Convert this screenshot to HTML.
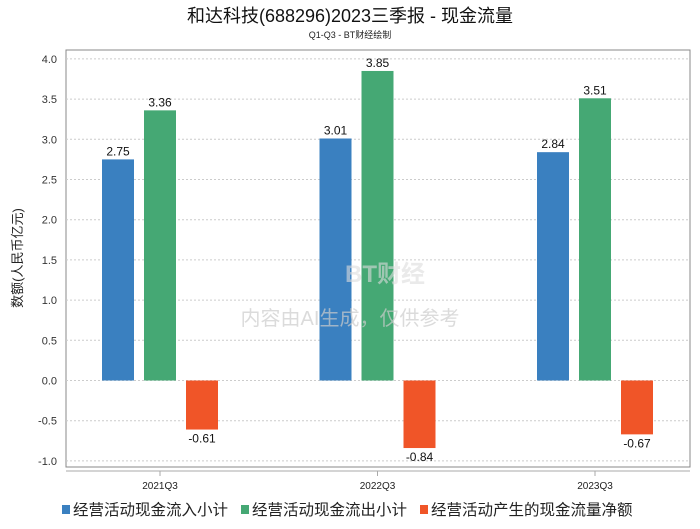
<!DOCTYPE html>
<html><head><meta charset="utf-8"><style>
body{margin:0;background:#fff;}
svg text{font-family:"Liberation Sans","Noto Sans CJK SC",sans-serif;}
</style></head><body>
<svg id="chart" width="700" height="524" xmlns="http://www.w3.org/2000/svg">
<text x="350" y="22" text-anchor="middle" font-size="18" fill="#111">和达科技(688296)2023三季报 - 现金流量</text>
<text x="350" y="38" text-anchor="middle" font-size="9" fill="#222">Q1-Q3 - BT财经绘制</text>
<rect x="66" y="50" width="624" height="417" fill="none" stroke="#888"/>
<g id="grid"></g>
<g id="bars"></g>
<line x1="66" y1="471" x2="690" y2="471" stroke="#aaa"/>
<text transform="translate(22,258) rotate(-90)" text-anchor="middle" font-size="13" fill="#222">数额(人民币亿元)</text>
<text x="385" y="282" text-anchor="middle" font-size="24" font-weight="bold" fill="#ddd" opacity="0.6">BT财经</text>
<text x="350" y="325" text-anchor="middle" font-size="20" fill="#ccc" opacity="0.7">内容由AI生成，仅供参考</text>
<g id="legend"></g>
</svg>
<script>
const categories=["2021Q3","2022Q3","2023Q3"];
const inflow=[2.75,3.01,2.84];
const outflow=[3.36,3.85,3.51];
const net=[-0.61,-0.84,-0.67];
const yTicks=[4.0,3.5,3.0,2.5,2.0,1.5,1.0,0.5,0.0,-0.5,-1.0];
const seriesNames=["经营活动现金流入小计","经营活动现金流出小计","经营活动产生的现金流量净额"];
const colors=["#3a80c0","#45a874","#f05528"];
const NS="http://www.w3.org/2000/svg";
function y(v){return 380.5-v*80.4;}
function x(i){return 160+i*217.5;}
function el(t,a,p,txt){const e=document.createElementNS(NS,t);for(const k in a)e.setAttribute(k,a[k]);if(txt!==undefined)e.textContent=txt;p.appendChild(e);return e;}
const grid=document.getElementById('grid');
yTicks.forEach(v=>{
  const l=el('line',{x1:66,x2:690,y1:y(v),y2:y(v),stroke:'#ccc','stroke-dasharray':'2,2'},grid);
  
  
  const t=el('text',{x:57,y:y(v)+4,'text-anchor':'end','font-size':11,fill:'#333'},grid,v.toFixed(1));
  
  
});
const bars=document.getElementById('bars');
const series=[inflow,outflow,net];
categories.forEach((c,i)=>{
  const tk=el('line',{x1:x(i),x2:x(i),y1:471,y2:476,stroke:'#aaa'},bars);
  
  
  const lb=el('text',{x:x(i),y:489,'text-anchor':'middle','font-size':10,fill:'#222'},bars,c);
  
  
  series.forEach((s,j)=>{
    const v=s[i];const cx=x(i)+(j-1)*42;
    const top=Math.min(y(v),y(0)),h=Math.abs(y(v)-y(0));
    const r=el('rect',{x:cx-16,y:top,width:32,height:h,fill:colors[j]},bars);
    
    
    const ty=v>=0?y(v)-4:y(v)+13;
    const t=el('text',{x:cx,y:ty,'text-anchor':'middle','font-size':12,fill:'#111'},bars,v.toFixed(2));
    
    
  });
});
const lg=document.getElementById('legend');
const lx=[62,241,420];
seriesNames.forEach((n,j)=>{
  const r=el('rect',{x:lx[j],y:505,width:8,height:9,fill:colors[j]},lg);
  
  
  const t=el('text',{x:lx[j]+11,y:515,'font-size':15.5,fill:'#222'},lg,n);
  
  
});
</script>
</body></html>
